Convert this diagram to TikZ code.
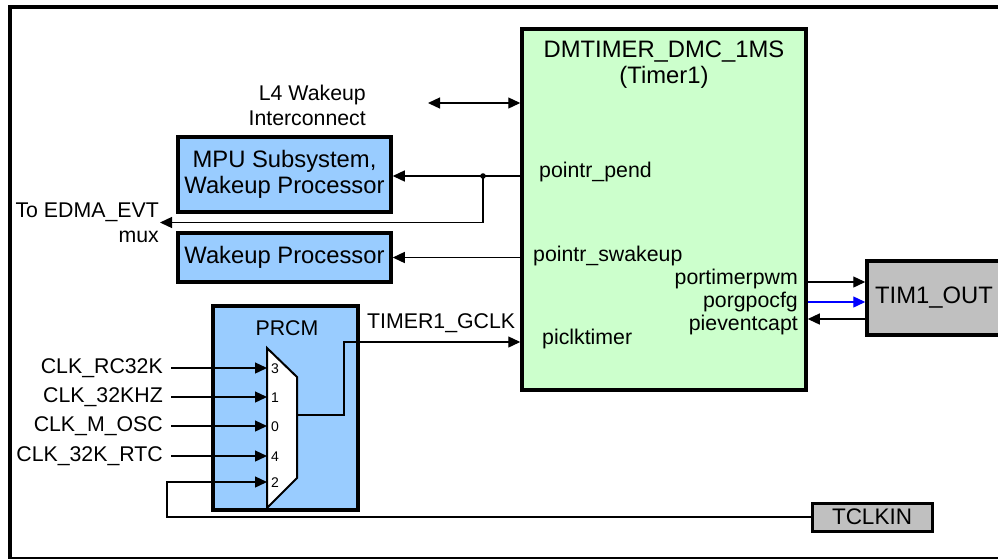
\documentclass[tikz,border=0pt]{standalone}
\usepackage{fontspec}
\setmainfont{Liberation Sans}
\usetikzlibrary{arrows.meta}
\definecolor{tgreen}{HTML}{CCFFCC}
\definecolor{tblue}{HTML}{99CCFF}
\definecolor{tgray}{HTML}{C0C0C0}
\begin{document}
\begin{tikzpicture}[x=1pt,y=-1pt,
  txt/.style={font=\fontsize{21.3}{25}\selectfont, inner sep=0pt},
  big/.style={font=\fontsize{23.8}{26}\selectfont, inner sep=0pt},
  num/.style={font=\fontsize{14}{16}\selectfont, inner sep=0pt},
  box/.style={draw, line width=3.5pt, inner sep=0pt, align=center, font=\fontsize{23.8}{26}\selectfont},
  conn/.style={line width=1.3pt, -{Triangle[length=12pt,width=11pt]}},
  dconn/.style={line width=1.3pt, {Triangle[length=12pt,width=11pt]}-{Triangle[length=12pt,width=11pt]}}]
\useasboundingbox (0,0) rectangle (998,558);
\clip (0,0) rectangle (998,558);
% outer frame
\draw[line width=3.5pt] (10,7) rectangle (1010,559);

% main boxes
\node[box, fill=tgreen, minimum width=284, minimum height=361] (tm) at (664,209.5) {};
\node[big, align=center] (tmt) at (664,65) {DMTIMER\_DMC\_1MS\\(Timer1)};
\node[box, fill=tblue, minimum width=213, minimum height=75] (mpu) at (284.5,174.5) {MPU Subsystem,\\Wakeup Processor};
\node[box, fill=tblue, minimum width=213, minimum height=49] (wk) at (284.5,257.5) {Wakeup Processor};
\node[box, fill=tblue, minimum width=145, minimum height=204] (prcm) at (285.5,408) {};
\node[txt] (prcmt) at (287,328) {PRCM};
\node[box, fill=tgray, minimum width=140, minimum height=74] (tim) at (937,298) {};
\node[big] (timt) at (934,298) {TIM1\_OUT};
\node[box, fill=tgray, line width=3pt, minimum width=120, minimum height=28, font=\fontsize{22.5}{24}\selectfont] (tclk) at (872,517) {TCLKIN};

% free labels
\node[txt, align=right, anchor=east] (l4) at (366,105.5) {L4 Wakeup\\Interconnect};
\node[txt, align=right, anchor=east] (edma) at (159,222.5) {To EDMA\_EVT\\mux};

% L4 interconnect
\coordinate (l4end) at (428,103);
\draw[dconn] (l4end) -- (tm.west |- l4end);

% pointr_pend
\coordinate (jn) at (483,176);
\draw[conn] (tm.west |- jn) -- (mpu.east |- jn);
\draw[conn] (jn) |- ([xshift=1]edma.east);
\fill (jn) circle (2.8);

% pointr_swakeup
\draw[conn] (tm.west |- wk.east) -- (wk.east);

% timer labels
\node[txt, anchor=west] (pp) at (539,172) {pointr\_pend};
\node[txt, anchor=west] (ps) at (533,256) {pointr\_swakeup};
\node[txt, anchor=west] (pc) at (542,339) {piclktimer};
\node[txt, anchor=east] (pw) at (798,279) {portimerpwm};
\node[txt, anchor=east] (pg) at (798,302) {porgpocfg};
\node[txt, anchor=east] (pe) at (798,325) {pieventcapt};

% TIM1_OUT connections
\draw[conn] (tm.east |- 0,282) -- (tim.west |- 0,282);
\draw[conn, blue] (tm.east |- 0,302) -- (tim.west |- 0,302);
\draw[conn] (tim.west |- 0,319) -- (tm.east |- 0,319);

% mux
\coordinate (mtl) at (267,348);
\coordinate (mtr) at (297,377);
\coordinate (mbr) at (297,478);
\coordinate (mbl) at (267,508);
\draw[line width=2pt, fill=white, line join=miter] (mtl) -- (mtr) -- (mbr) -- (mbl) -- cycle;

% inputs
\node[txt, anchor=east] (i3) at (163,368) {CLK\_RC32K};
\node[txt, anchor=east] (i1) at (163,397) {CLK\_32KHZ};
\node[txt, anchor=east] (i0) at (163,426) {CLK\_M\_OSC};
\node[txt, anchor=east] (i4) at (163,456) {CLK\_32K\_RTC};
\draw[conn] ([xshift=8]i3.east) -- (mtl |- i3.east);
\draw[conn] ([xshift=8]i1.east) -- (mtl |- i1.east);
\draw[conn] ([xshift=8]i0.east) -- (mtl |- i0.east);
\draw[conn] ([xshift=8]i4.east) -- (mtl |- i4.east);
\coordinate (c2) at (167,482);
\coordinate (m2) at (267,482);
\draw[conn] (tclk.west) -| (c2) -- (m2);

\node[num, anchor=west] (n3) at (271,369) {3};
\node[num, anchor=west] (n1) at (271,398) {1};
\node[num, anchor=west] (n0) at (271,427) {0};
\node[num, anchor=west] (n4) at (271,457) {4};
\node[num, anchor=west] (n2) at (271,483) {2};

% mux output
\coordinate (mo) at (297,415);
\coordinate (bend) at (344,342);
\draw[conn] (mo) -| (bend) -- (tm.west |- bend);
\node[txt, anchor=west] (gclk) at (367,323) {TIMER1\_GCLK};
\end{tikzpicture}
\end{document}
